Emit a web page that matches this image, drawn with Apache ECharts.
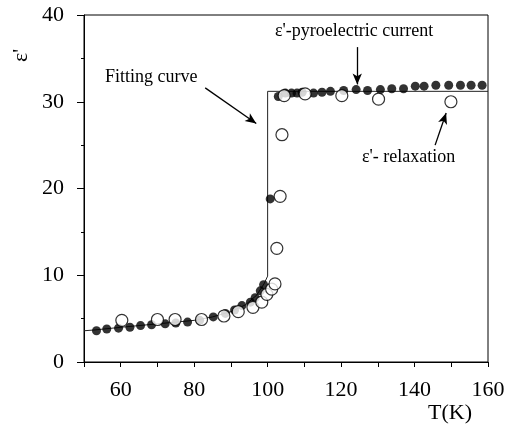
<!DOCTYPE html>
<html>
<head>
<meta charset="utf-8">
<script src="https://cdn.jsdelivr.net/npm/echarts@6/dist/echarts.min.js"></script>
<style>
  html, body { margin: 0; padding: 0; background: #fff; }
  #chart { width: 509px; height: 432px; }
</style>
</head>
<body>
<div id="chart"></div>
<script>
// eps' from pyroelectric current (filled dots)
const pyroT = [53.4, 56.2, 59.4, 62.5, 65.4, 68.4, 72.1, 75, 78.2, 81.5, 85.2, 88.5, 91, 93, 95.3, 96.6, 98, 98.9,
  100.7, 102.9, 104.8, 106.5, 108, 109.4, 112.5, 114.8, 117.1, 120.7, 124.1, 127.2, 130.7, 133.8, 137,
  140.2, 142.6, 145.8, 149.3, 152.5, 155.4, 158.4];
const pyroEps = [3.6, 3.8, 3.9, 4.0, 4.2, 4.3, 4.4, 4.5, 4.6, 4.8, 5.2, 5.6, 6.0, 6.5, 6.9, 7.4, 8.2, 8.9,
  18.8, 30.6, 31.0, 31.0, 31.0, 31.1, 31.0, 31.1, 31.2, 31.3, 31.4, 31.3, 31.4, 31.5, 31.5,
  31.8, 31.8, 31.9, 31.9, 31.9, 31.9, 31.9];

// eps' from relaxation (open circles)
const relaxT = [60.3, 70, 74.8, 82, 88.1, 92, 96, 98.4, 99.8, 101.1, 102, 102.5, 103.4, 103.9, 104.5, 110.2, 120.2, 130.2, 149.9];
const relaxEps = [4.8, 4.9, 4.9, 4.9, 5.3, 5.8, 6.3, 6.9, 7.8, 8.4, 9.0, 13.1, 19.1, 26.2, 30.7, 30.9, 30.7, 30.3, 30.0];

// fitting curve
const fitT = [50, 53, 60, 70, 80, 85, 90, 94, 97, 99, 100, 100, 160];
const fitEps = [3.6, 3.7, 4.0, 4.4, 4.8, 5.2, 5.8, 6.6, 7.7, 9.0, 9.9, 31.2, 31.2];

const xTicks = [60, 80, 100, 120, 140, 160];
const yTicks = [0, 10, 20, 30, 40];

// annotation arrows, [from, to] in data units
const arrows = [
  [[83.0, 31.6], [96.9, 27.5]],
  [[124.4, 36.3], [124.4, 32.0]],
  [[145.6, 25.0], [148.6, 28.7]]
];

const font = "'Liberation Serif', 'DejaVu Serif', serif";
const zip = (a, b) => a.map((v, i) => [v, b[i]]);

const chart = echarts.init(document.getElementById('chart'));

chart.setOption({
  animation: false,
  backgroundColor: '#fff',
  grid: {
    left: 84, right: 21, top: 15, bottom: 70,
    show: true, borderColor: '#000', borderWidth: 1
  },
  xAxis: {
    type: 'value',
    min: 50, max: 160, interval: 10,
    axisLine: { lineStyle: { color: '#000', width: 1 } },
    axisTick: { inside: false, length: 5, lineStyle: { color: '#000' } },
    splitLine: { show: false },
    axisLabel: {
      margin: 17,
      color: '#000',
      fontFamily: font,
      fontSize: 22,
      formatter: v => (xTicks.includes(v) ? String(v) : '')
    }
  },
  yAxis: {
    type: 'value',
    min: 0, max: 40, interval: 10,
    axisLine: { lineStyle: { color: '#000', width: 1 } },
    axisTick: { inside: false, length: 7, lineStyle: { color: '#000' } },
    minorTick: { show: true, splitNumber: 2, length: 3, lineStyle: { color: '#000' } },
    splitLine: { show: false },
    axisLabel: {
      margin: 20,
      color: '#000',
      fontFamily: font,
      fontSize: 22,
      formatter: v => (yTicks.includes(v) ? String(v) : '')
    }
  },
  series: [
    {
      name: 'fit',
      type: 'line',
      data: zip(fitT, fitEps),
      symbol: 'none',
      lineStyle: { color: '#222', width: 1 },
      z: 1,
      markLine: {
        silent: true,
        symbol: ['none', 'arrow'],
        symbolSize: [7, 11],
        label: { show: false },
        lineStyle: { color: '#000', width: 1.3, type: 'solid' },
        data: arrows.map(a => [{ coord: a[0] }, { coord: a[1] }])
      }
    },
    {
      name: 'pyro',
      type: 'scatter',
      data: zip(pyroT, pyroEps),
      symbol: 'circle',
      symbolSize: 9,
      itemStyle: { color: '#000' },
      z: 2
    },
    {
      name: 'relax',
      type: 'scatter',
      data: zip(relaxT, relaxEps),
      symbol: 'circle',
      symbolSize: 12,
      itemStyle: { color: '#fff', borderColor: '#000', borderWidth: 1.2 },
      z: 3
    }
  ],
  graphic: [
    {
      type: 'text', left: 105, top: 68,
      style: { text: 'Fitting curve', font: '18px ' + font, fill: '#000' }
    },
    {
      type: 'text', left: 275, top: 22,
      style: { text: "ε'-pyroelectric current", font: '18px ' + font, fill: '#000' }
    },
    {
      type: 'text', left: 362, top: 148,
      style: { text: "ε'- relaxation", font: '18px ' + font, fill: '#000' }
    },
    {
      type: 'text', left: 428, top: 402,
      style: { text: 'T(K)', font: '22px ' + font, fill: '#000' }
    },
    {
      type: 'text', x: 10, y: 62, rotation: Math.PI / 2,
      style: { text: "ε'", font: '22px ' + font, fill: '#000' }
    }
  ]
});
</script>
</body>
</html>
